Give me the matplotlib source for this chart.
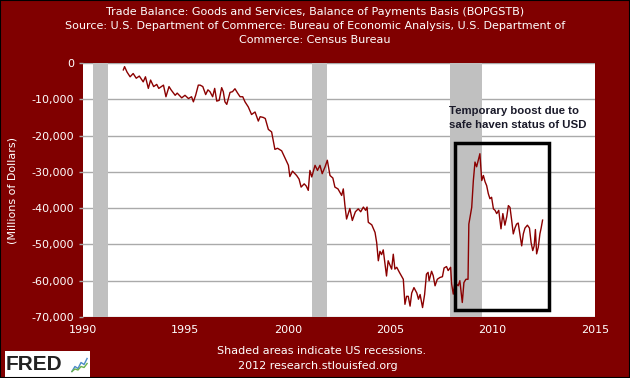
import matplotlib
matplotlib.use('Agg')
from matplotlib import pyplot as plt
from matplotlib.patches import Rectangle

# trade balance, millions of dollars
dates = [1991.97, 1992.03, 1992.15, 1992.3, 1992.45, 1992.6, 1992.75, 1992.94, 1993.05, 1993.19,
         1993.3, 1993.45, 1993.6, 1993.7, 1993.93, 1994.05, 1994.2, 1994.3, 1994.5, 1994.6,
         1994.82, 1994.98, 1995.15, 1995.3, 1995.39, 1995.5, 1995.63, 1995.72, 1995.85, 1995.99,
         1996.1, 1996.2, 1996.33, 1996.43, 1996.53, 1996.65, 1996.77, 1996.85, 1996.93, 1997.02,
         1997.18, 1997.3, 1997.42, 1997.55, 1997.67, 1997.8, 1997.91, 1998.07, 1998.23, 1998.4,
         1998.56, 1998.65, 1998.8, 1998.9, 1999.05, 1999.21, 1999.37, 1999.5, 1999.7, 1999.85,
         2000.03, 2000.1, 2000.23, 2000.43, 2000.55, 2000.65, 2000.8, 2000.9, 2001.0, 2001.08,
         2001.17, 2001.33, 2001.45, 2001.57, 2001.68, 2001.82, 2001.93, 2002.06, 2002.2, 2002.3,
         2002.45, 2002.63, 2002.71, 2002.79, 2002.87, 2003.03, 2003.15, 2003.3, 2003.44, 2003.56,
         2003.69, 2003.8, 2003.87, 2003.93, 2004.1, 2004.26, 2004.34, 2004.42, 2004.5, 2004.58,
         2004.66, 2004.82, 2004.9, 2005.07, 2005.15, 2005.23, 2005.32, 2005.45, 2005.64, 2005.72,
         2005.8, 2005.88, 2005.97, 2006.05, 2006.16, 2006.3, 2006.38, 2006.46, 2006.58, 2006.68,
         2006.77, 2006.85, 2006.9, 2007.02, 2007.1, 2007.19, 2007.3, 2007.43, 2007.55, 2007.63,
         2007.75, 2007.83, 2007.95, 2008.0, 2008.08, 2008.16, 2008.32, 2008.4, 2008.52, 2008.6,
         2008.7, 2008.8, 2008.84, 2008.92, 2008.98, 2009.06, 2009.14, 2009.22, 2009.3, 2009.38,
         2009.47, 2009.55, 2009.63, 2009.71, 2009.79, 2009.87, 2009.95, 2010.04, 2010.12, 2010.2,
         2010.3, 2010.41, 2010.5, 2010.6, 2010.69, 2010.77, 2010.85, 2010.93, 2011.01, 2011.09,
         2011.17, 2011.25, 2011.33, 2011.42, 2011.5, 2011.58, 2011.7, 2011.8, 2011.88, 2011.96,
         2012.03, 2012.09, 2012.15, 2012.23, 2012.31, 2012.37, 2012.44]
balance = [-1900, -1000, -2500, -3800, -2900, -4200, -3600, -5200, -3800, -7000,
           -4700, -6500, -5900, -7000, -6100, -9300, -6500, -7400, -8900, -8300,
           -9600, -8900, -9800, -9300, -10700, -8900, -6100, -6100, -6500, -8700,
           -7400, -7900, -9300, -7000, -10500, -10300, -6800, -7900, -10700, -11400,
           -8100, -7900, -7100, -8300, -9300, -9300, -10700, -12100, -14200, -13500,
           -16000, -14800, -15000, -15300, -18300, -19000, -23800, -23500, -24200, -26000,
           -28200, -31300, -29800, -31000, -32000, -34200, -33300, -33900, -35100, -29600,
           -31400, -28200, -29600, -28200, -30500, -28600, -26800, -31000, -31700, -34200,
           -34700, -36500, -34700, -39300, -43000, -40100, -43400, -41000, -40200, -41000,
           -39700, -40600, -39700, -43900, -44600, -46700, -49500, -54500, -51900, -52800,
           -51500, -58700, -54500, -56800, -52700, -56800, -56300, -57700, -59600, -66500,
           -64300, -64300, -67000, -63400, -61900, -63400, -65100, -63800, -67400, -63800,
           -58200, -57700, -60000, -57400, -58600, -61400, -59600, -59100, -58900, -56500,
           -56100, -57200, -56300, -60900, -63700, -60500, -61400, -60000, -66000, -60500,
           -59600, -59600, -44400, -41800, -39800, -32400, -27300, -28600, -26800, -25000,
           -32400, -31000, -32700, -33800, -36000, -37400, -37000, -40200, -40600, -41500,
           -40600, -45700, -41500, -44700, -42400, -39300, -39800, -43300, -47100, -45500,
           -44400, -44100, -47100, -50400, -47100, -45500, -44700, -45500, -49500, -51700,
           -50400, -45900, -52600, -50800, -47100, -45500, -43300]

recessions = [(1990.5, 1991.2), (2001.2, 2001.9), (2007.9, 2009.5)]
yticks = [0, -10000, -20000, -30000, -40000, -50000, -60000, -70000]
ytick_labels = ['0', '-10,000', '-20,000', '-30,000', '-40,000', '-50,000', '-60,000', '-70,000']
xticks = [1990, 1995, 2000, 2005, 2010, 2015]

bg = '#800000'
plt.rcParams['font.family'] = 'DejaVu Sans'

fig = plt.figure(figsize=(6.3, 3.78), dpi=100, facecolor=bg)
ax = fig.add_axes([83/630, 1-317/378, 512/630, 254/378])
ax.set_facecolor('white')

for start, end in recessions:
    ax.axvspan(start, end, color='#c0c0c0', lw=0, zorder=1)

for y in yticks:
    ax.axhline(y, color='#aaaaaa', lw=1, zorder=0.5)

ax.plot(dates, balance, color='#8b0000', lw=1, zorder=3)

# box around the 2009 spike
ax.add_patch(Rectangle((2008.16, -68000), 4.59, 45900, fill=False, ec='black', lw=2.5, zorder=4))
ax.text(2007.85, -11800, 'Temporary boost due to\nsafe haven status of USD', fontsize=8.2,
        fontweight='bold', family='Liberation Sans', color='#1a1a2a', va='top', ha='left',
        linespacing=1.5, zorder=5)

ax.set_xlim(1990, 2015)
ax.set_ylim(-70000, 0)
ax.set_xticks(xticks)
ax.set_xticklabels([str(x) for x in xticks])
ax.set_yticks(yticks)
ax.set_yticklabels(ytick_labels)
ax.tick_params(axis='y', colors='#aaaaaa', labelcolor='white', labelsize=8, length=3, width=1)
ax.tick_params(axis='x', length=0, labelcolor='white', labelsize=8, pad=6)
for s in ax.spines.values():
    s.set_visible(False)

ax.set_ylabel('(Millions of Dollars)', color='white', fontsize=8)
ax.yaxis.set_label_coords(-0.127, 0.5)

fig.text(0.5, 1-12/378, 'Trade Balance: Goods and Services, Balance of Payments Basis (BOPGSTB)',
         color='white', fontsize=8, ha='center', va='center')
fig.text(0.5, 1-26/378, 'Source: U.S. Department of Commerce: Bureau of Economic Analysis, U.S. Department of',
         color='white', fontsize=8, ha='center', va='center')
fig.text(0.5, 1-40/378, 'Commerce: Census Bureau', color='white', fontsize=8, ha='center', va='center')
fig.text(322/630, 1-351/378, 'Shaded areas indicate US recessions.', color='white', fontsize=8,
         ha='center', va='center')
fig.text(318/630, 1-366/378, '2012 research.stlouisfed.org', color='white', fontsize=8,
         ha='center', va='center')

# FRED logo
fig.patches.append(Rectangle((5/630, 1-377/378), 85/630, 26/378, transform=fig.transFigure,
                             fc='white', ec='none', zorder=5))
fig.text(6/630, 1-364/378, 'FRED', color='#222222', fontsize=15, fontweight='bold',
         family='Liberation Sans', ha='left', va='center', zorder=6)
logo = fig.add_axes([71/630, 1-373/378, 17/630, 16/378], zorder=7)
logo.patch.set_alpha(0)
logo.plot([0, 1, 2, 3, 4, 5], [0, 1, 0.6, 1.8, 1.4, 2.6], color='#4a8ac8', lw=1)
logo.plot([0, 1, 2, 3, 4, 5], [0, 0.5, 0.3, 1.0, 0.8, 1.6], color='#6ab04c', lw=1)
logo.set_xlim(-0.3, 5.3)
logo.set_ylim(-0.3, 2.9)
logo.axis('off')

fig.patches.append(Rectangle((0, 0), 1, 1, transform=fig.transFigure, fill=False,
                             ec='black', lw=1.5, zorder=10))

fig.savefig('out.png', dpi=100, facecolor=bg)
